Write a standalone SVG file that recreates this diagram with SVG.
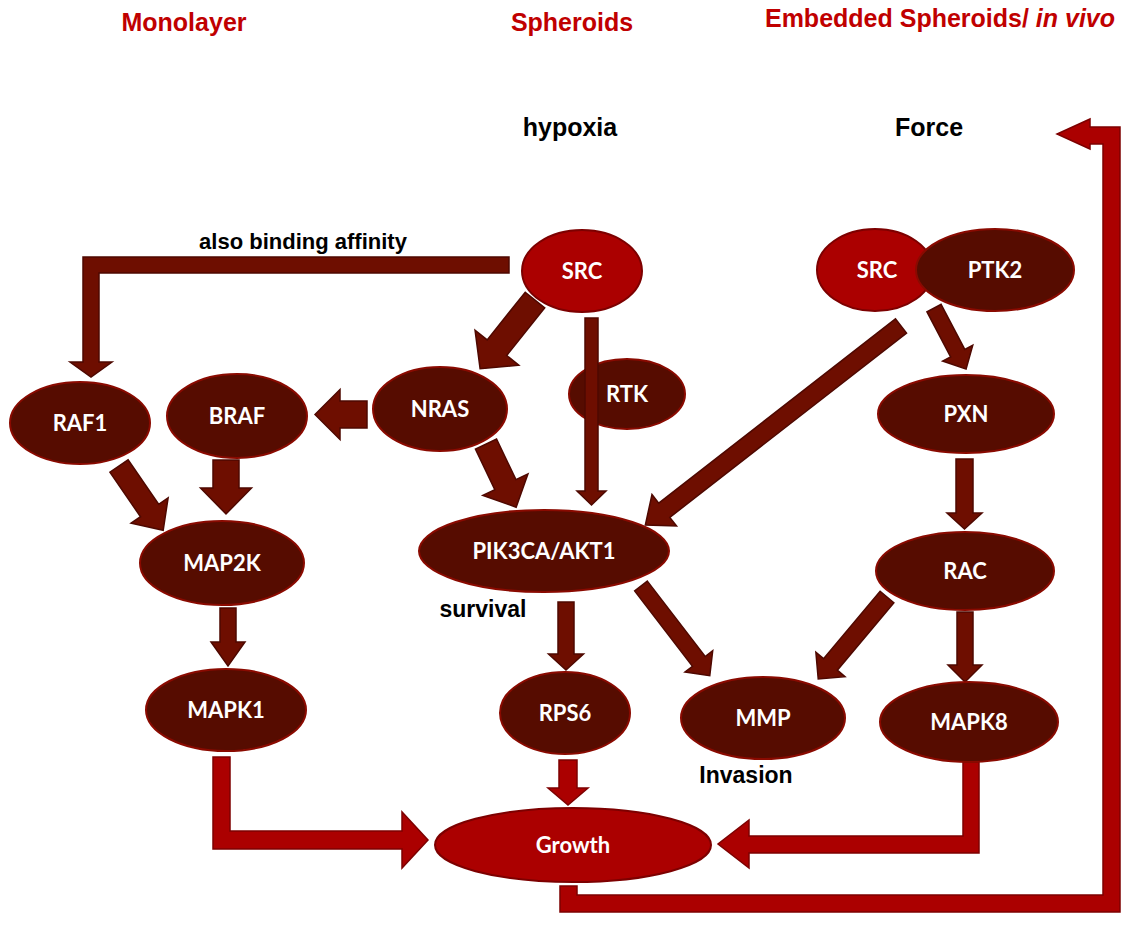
<svg xmlns="http://www.w3.org/2000/svg" width="1123" height="926" viewBox="0 0 1123 926">
  <style>
    .node-dark { fill: #560c00; stroke: #8a0a00; stroke-width: 2; }
    .node-red { fill: #ab0000; stroke: #7d0000; stroke-width: 2; }
    .lbl { font-family: Lato, "Open Sans", sans-serif; font-weight: 700; font-size: 22px; fill: #ffffff; text-anchor: middle; }
    .arrow { fill: #6e0e00; stroke: #4e0800; stroke-width: 1.5; stroke-linejoin: miter; }
    .arrow-red { fill: #ab0000; stroke: #7d0000; stroke-width: 1.5; }
    .title { font-family: "Liberation Sans", Arial, sans-serif; font-weight: 700; font-size: 25px; fill: #c00000; text-anchor: middle; }
    .note { font-family: "Liberation Sans", Arial, sans-serif; font-weight: 700; fill: #000000; }
  </style>

  <rect width="1123" height="926" fill="#ffffff"/>

  <!-- column headings -->
  <g id="headings">
    <text class="title" x="184" y="31">Monolayer</text>
    <text class="title" x="572" y="31">Spheroids</text>
    <text class="title" x="940" y="27" font-size="25.5">Embedded Spheroids/ <tspan font-style="italic">in vivo</tspan></text>
  </g>

  <!-- annotations -->
  <g id="annotations">
    <text class="note" x="570" y="136" font-size="25" text-anchor="middle">hypoxia</text>
    <text class="note" x="929" y="136" font-size="25" text-anchor="middle">Force</text>
    <text class="note" x="303" y="249" font-size="22" text-anchor="middle">also binding affinity</text>
    <text class="note" x="483" y="617" font-size="23" text-anchor="middle">survival</text>
    <text class="note" x="746" y="783" font-size="23" text-anchor="middle">Invasion</text>
  </g>

  <!-- RTK sits underneath the SRC connector that crosses it -->
  <g id="node-rtk">
    <ellipse class="node-dark" cx="627" cy="394" rx="58" ry="35"/>
    <text class="lbl" x="627" y="402">RTK</text>
  </g>

  <!-- connectors -->
  <g id="connectors">
    <!-- SRC to RAF1, elbow -->
    <polygon class="arrow" points="509,257 509,273 99,273 99,362 112,362 91,377 70,362 83,362 83,257"/>
    <!-- SRC to NRAS -->
    <polygon class="arrow" transform="translate(535,300) rotate(128.6)" points="0,-12.5 61,-12.5 61,-28 88,0 61,28 61,12.5 0,12.5"/>
    <!-- NRAS to BRAF -->
    <polygon class="arrow" transform="translate(367,414.5) rotate(180)" points="0,-13.5 27,-13.5 27,-25 52,0 27,25 27,13.5 0,13.5"/>
    <!-- RAF1 to MAP2K -->
    <polygon class="arrow" transform="translate(119,466) rotate(55.5)" points="0,-11 54,-11 54,-22.5 78,0 54,22.5 54,11 0,11"/>
    <!-- BRAF to MAP2K -->
    <polygon class="arrow" transform="translate(226,460) rotate(90)" points="0,-13 28,-13 28,-25.5 54,0 28,25.5 28,13 0,13"/>
    <!-- MAP2K to MAPK1 -->
    <polygon class="arrow" transform="translate(228,608) rotate(90)" points="0,-8 34,-8 34,-17 58,0 34,17 34,8 0,8"/>
    <!-- NRAS to PIK3CA/AKT1 -->
    <polygon class="arrow" transform="translate(486,444) rotate(64.5)" points="0,-11.7 45,-11.7 45,-25 70,0 45,25 45,11.7 0,11.7"/>
    <!-- SRC to PIK3CA/AKT1, drawn over RTK -->
    <polygon class="arrow" transform="translate(591.5,318) rotate(90)" points="0,-6.5 173,-6.5 173,-14.5 187,0 173,14.5 173,6.5 0,6.5"/>
    <!-- SRC/PTK2 to PIK3CA/AKT1 -->
    <polygon class="arrow" transform="translate(901,326) rotate(142.1)" points="0,-9 300,-9 300,-20 324,0 300,20 300,9 0,9"/>
    <!-- PTK2 to PXN -->
    <polygon class="arrow" transform="translate(934,308) rotate(62.3)" points="0,-8 51,-8 51,-17 69,0 51,17 51,8 0,8"/>
    <!-- PXN to RAC -->
    <polygon class="arrow" transform="translate(964.5,459) rotate(90)" points="0,-8.5 54,-8.5 54,-17.5 70,0 54,17.5 54,8.5 0,8.5"/>
    <!-- RAC to MAPK8 -->
    <polygon class="arrow" transform="translate(965,612) rotate(90)" points="0,-8 53,-8 53,-17 70,0 53,17 53,8 0,8"/>
    <!-- RAC to MMP -->
    <polygon class="arrow" transform="translate(887,597) rotate(130)" points="0,-9 88,-9 88,-19 107,0 88,19 88,9 0,9"/>
    <!-- PIK3CA/AKT1 to RPS6 -->
    <polygon class="arrow" transform="translate(566,602) rotate(90)" points="0,-8 52,-8 52,-17.5 68,0 52,17.5 52,8 0,8"/>
    <!-- PIK3CA/AKT1 to MMP -->
    <polygon class="arrow" transform="translate(641,586) rotate(52.5)" points="0,-8 95,-8 95,-17.5 113,0 95,17.5 95,8 0,8"/>
    <!-- RPS6 to Growth -->
    <polygon class="arrow-red" transform="translate(568,760) rotate(90)" points="0,-9 28,-9 28,-20 45,0 28,20 28,9 0,9"/>
    <!-- MAPK1 to Growth -->
    <polygon class="arrow-red" points="213,757 230,757 230,831 402,831 402,812 428,840 402,868 402,849 213,849"/>
    <!-- MAPK8 to Growth -->
    <polygon class="arrow-red" points="979,762 979,853 749,853 749,868 718,844 749,820 749,836 963,836 963,762"/>
    <!-- Growth feedback to Force -->
    <polygon class="arrow-red" points="560,886 577,886 577,895 1103,895 1103,144 1090,144 1090,149 1057,134 1090,119 1090,127 1120,127 1120,912 560,912"/>
  </g>

  <!-- nodes -->
  <g id="node-src-center">
    <ellipse class="node-red" cx="582" cy="271" rx="60" ry="41"/>
    <text class="lbl" x="582" y="279">SRC</text>
  </g>
  <g id="node-src-right">
    <ellipse class="node-red" cx="875" cy="270" rx="58" ry="41"/>
    <text class="lbl" x="877" y="278">SRC</text>
  </g>
  <g id="node-ptk2">
    <ellipse class="node-dark" cx="995" cy="270" rx="79" ry="41"/>
    <text class="lbl" x="995" y="278">PTK2</text>
  </g>
  <g id="node-raf1">
    <ellipse class="node-dark" cx="80" cy="423" rx="70" ry="41"/>
    <text class="lbl" x="80" y="431">RAF1</text>
  </g>
  <g id="node-braf">
    <ellipse class="node-dark" cx="237" cy="416" rx="70" ry="42"/>
    <text class="lbl" x="237" y="424">BRAF</text>
  </g>
  <g id="node-nras">
    <ellipse class="node-dark" cx="440" cy="409" rx="67" ry="42"/>
    <text class="lbl" x="440" y="417">NRAS</text>
  </g>
  <g id="node-pxn">
    <ellipse class="node-dark" cx="966" cy="414" rx="88" ry="39"/>
    <text class="lbl" x="966" y="422">PXN</text>
  </g>
  <g id="node-map2k">
    <ellipse class="node-dark" cx="222" cy="563" rx="82" ry="42"/>
    <text class="lbl" x="222" y="571">MAP2K</text>
  </g>
  <g id="node-pik3ca-akt1">
    <ellipse class="node-dark" cx="544" cy="551" rx="125" ry="41"/>
    <text class="lbl" x="544" y="559">PIK3CA/AKT1</text>
  </g>
  <g id="node-rac">
    <ellipse class="node-dark" cx="965" cy="571" rx="89" ry="39"/>
    <text class="lbl" x="965" y="579">RAC</text>
  </g>
  <g id="node-mapk1">
    <ellipse class="node-dark" cx="226" cy="710" rx="80" ry="41"/>
    <text class="lbl" x="226" y="718">MAPK1</text>
  </g>
  <g id="node-rps6">
    <ellipse class="node-dark" cx="565" cy="713" rx="65" ry="41"/>
    <text class="lbl" x="565" y="721">RPS6</text>
  </g>
  <g id="node-mmp">
    <ellipse class="node-dark" cx="763" cy="718" rx="82" ry="41"/>
    <text class="lbl" x="763" y="726">MMP</text>
  </g>
  <g id="node-mapk8">
    <ellipse class="node-dark" cx="969" cy="722" rx="89" ry="40"/>
    <text class="lbl" x="969" y="730">MAPK8</text>
  </g>
  <g id="node-growth">
    <ellipse class="node-red" cx="573" cy="845" rx="138" ry="37"/>
    <text class="lbl" x="573" y="853">Growth</text>
  </g>
</svg>
